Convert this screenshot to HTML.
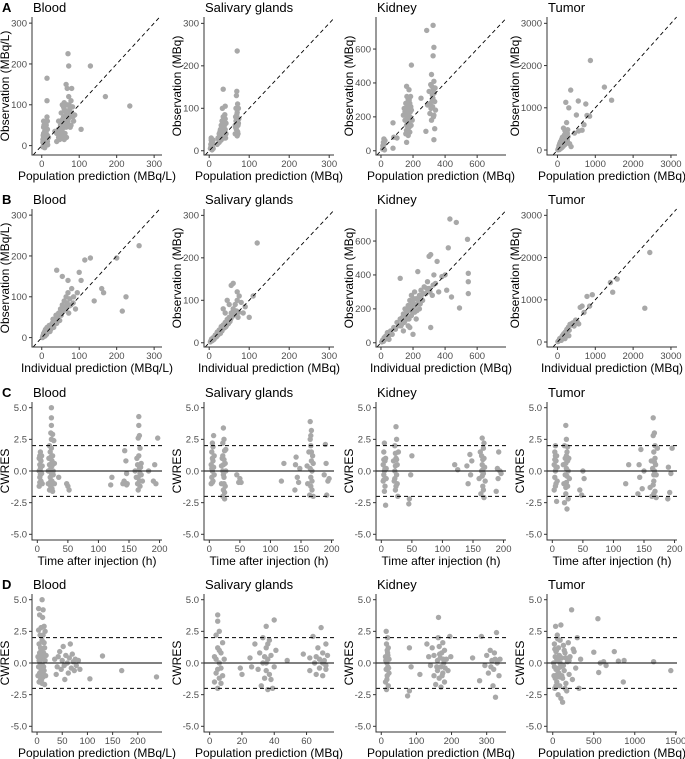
<!DOCTYPE html>
<html><head><meta charset="utf-8">
<style>
html,body{margin:0;padding:0;background:#fff;}
svg{display:block;font-family:"Liberation Sans",sans-serif;}
</style></head>
<body>
<svg id="fig" width="685" height="759" viewBox="0 0 685 759"></svg>
<script>
// ---- data ----
const A_blood=[[5,0],[5,10],[5,20],[5,30],[5,45],[5,60],[8,-5],[8,5],[8,15],[8,25],[8,35],[10,0],[10,12],[10,22],[10,40],[12,5],[12,18],[12,30],[12,50],[14,70],[14,110],[14,165],[15,10],[15,25],[15,40],[15,60],[18,20],[3,-3],[3,8],[3,15],[40,30],[40,10],[45,40],[45,20],[50,50],[50,30],[50,60],[52,80],[55,100],[55,40],[55,25],[58,70],[58,50],[60,90],[60,105],[62,30],[62,60],[65,75],[65,45],[65,150],[68,140],[68,100],[70,60],[70,80],[70,225],[72,195],[72,120],[75,90],[75,70],[78,110],[78,50],[80,140],[80,80],[82,95],[85,60],[88,75],[105,40],[130,195],[170,120],[235,97],[35,35],[45,60],[60,15],[66,20],[6,50],[7,3],[9,28],[11,8],[13,38],[16,2],[4,25],[52,35],[56,65],[63,85],[67,55],[73,100],[76,45],[48,15],[58,95],[71,65],[83,70],[53,20]];
const A_saliv=[[3,5],[4,15],[5,25],[5,30],[6,10],[6,20],[8,12],[8,18],[10,5],[10,25],[20,15],[22,30],[25,40],[25,20],[28,50],[28,35],[30,60],[30,25],[32,45],[32,70],[33,100],[35,145],[35,80],[35,55],[36,40],[38,60],[38,30],[40,75],[40,50],[40,105],[42,65],[42,40],[65,40],[65,60],[66,80],[67,100],[68,130],[68,50],[69,140],[70,70],[70,90],[70,235],[71,110],[72,60],[72,40],[73,100],[74,75],[70,35],[4,8],[6,28],[7,2],[9,15],[24,25],[27,45],[31,35],[34,65],[37,50],[39,85],[41,30],[66,55],[69,85],[71,45],[73,65],[67,70]];
const A_kidney=[[10,10],[12,30],[15,50],[15,20],[18,70],[20,40],[22,5],[25,60],[75,15],[75,165],[80,80],[100,75],[140,210],[145,250],[150,180],[150,230],[155,100],[155,280],[160,150],[160,50],[160,380],[162,320],[165,200],[165,260],[168,130],[170,90],[170,300],[172,220],[175,170],[175,360],[178,250],[180,110],[180,280],[182,200],[185,320],[188,150],[190,505],[190,240],[195,180],[250,310],[280,115],[285,710],[290,270],[300,350],[305,220],[310,390],[315,180],[315,450],[320,300],[320,330],[322,260],[325,740],[325,560],[328,360],[330,610],[330,410],[330,65],[330,210],[335,130],[335,290],[338,370],[340,240],[158,210],[163,240],[167,170],[173,270],[177,140],[183,230],[186,260],[159,120],[171,190],[176,300],[312,250],[318,380],[324,310],[332,340],[327,200],[308,280]];
const A_tumor=[[20,20],[30,50],[40,100],[50,10],[60,150],[70,80],[80,200],[90,40],[100,120],[110,250],[120,60],[130,300],[140,180],[150,90],[160,520],[170,220],[180,350],[190,130],[200,450],[210,280],[220,1130],[230,180],[240,650],[250,380],[260,230],[270,480],[280,320],[300,1000],[320,150],[350,1420],[360,80],[450,400],[500,830],[550,1160],[560,450],[650,470],[700,600],[750,1090],[780,820],[850,800],[870,2120],[1240,1490],[1430,1180],[10,5],[60,40],[120,200],[200,130],[80,100],[100,60],[140,260],[160,150],[180,220],[220,300],[240,200],[260,400],[190,330],[50,80]];
const B_blood=[[2,0],[4,5],[5,10],[6,3],[8,15],[10,8],[10,20],[12,12],[14,25],[15,18],[18,22],[20,30],[22,15],[25,28],[28,35],[30,45],[32,25],[35,40],[38,55],[40,35],[42,50],[45,60],[48,42],[50,70],[52,55],[55,80],[58,65],[60,90],[62,75],[65,100],[68,85],[70,110],[72,60],[75,95],[78,80],[80,120],[85,100],[90,70],[95,110],[40,165],[100,160],[105,140],[115,190],[130,195],[140,90],[160,120],[165,110],[200,195],[215,65],[225,100],[260,225],[55,150],[70,140],[3,4],[7,9],[9,4],[11,16],[13,8],[16,14],[24,20],[34,32],[44,45],[54,62],[64,70],[74,78],[84,85]];
const B_saliv=[[3,2],[5,6],[8,5],[10,12],[12,8],[15,18],[18,14],[20,25],[22,18],[25,30],[28,22],[30,38],[32,28],[35,42],[38,35],[40,48],[42,38],[45,55],[48,45],[50,60],[52,50],[55,70],[58,62],[60,80],[62,68],[65,90],[68,75],[70,100],[72,60],[75,110],[80,95],[85,70],[90,85],[35,80],[45,100],[55,135],[60,140],[110,110],[120,235],[100,60],[70,120],[4,4],[6,9],[14,12],[24,22],[34,36],[44,42],[54,56],[64,66],[74,72],[50,90],[40,70]];
const B_kidney=[[5,5],[10,15],[15,8],[20,30],[25,20],[30,40],[35,25],[40,60],[45,35],[50,20],[60,70],[70,50],[80,90],[90,80],[100,120],[110,100],[120,140],[130,110],[140,170],[150,130],[150,200],[160,180],[160,150],[170,220],[170,100],[180,190],[180,250],[190,160],[190,280],[200,210],[200,240],[210,180],[210,300],[220,260],[220,140],[230,230],[240,280],[240,200],[250,310],[260,250],[270,330],[280,290],[290,360],[300,320],[300,510],[310,520],[310,90],[320,280],[330,400],[340,350],[350,480],[360,300],[380,390],[400,400],[410,310],[420,560],[430,730],[440,270],[470,710],[490,205],[540,610],[545,410],[545,360],[545,290],[140,70],[200,50],[120,380],[230,420],[180,90],[155,160],[165,200],[175,140],[185,210],[195,230],[205,260],[215,220],[145,120],[135,150],[125,100],[225,190],[235,250],[245,230],[265,290],[285,320],[305,300],[325,340],[250,270],[195,190]];
const B_tumor=[[10,10],[30,25],[50,60],[70,50],[90,100],[110,90],[130,150],[150,120],[170,200],[190,170],[210,240],[230,200],[250,300],[270,260],[290,350],[310,280],[330,420],[360,400],[400,450],[440,380],[480,520],[520,480],[560,430],[600,820],[650,850],[700,700],[780,1080],[850,850],[920,1120],[1400,1410],[1460,1180],[1580,1490],[2310,800],[2440,2120],[200,80],[100,40],[300,150],[60,80],[120,110],[180,150],[240,260],[160,180],[80,70]];
const C_blood=[[3,-1.2],[3,0],[3,1],[4,0.5],[4,-0.5],[5,1.5],[5,0.2],[6,-0.8],[6,0.8],[7,-0.2],[7,1.2],[8,0.4],[8,-1],[5,-0.3],[18,0],[18,-1],[19,1],[20,-1.5],[20,0.5],[20,2],[21,-0.5],[21,1.5],[22,3],[22,-1.2],[22,0.2],[23,5],[23,4.2],[23,3.6],[23,2.5],[24,-0.8],[24,0.8],[25,2.9],[25,-1.6],[25,1.2],[26,0],[26,-0.3],[27,2.4],[28,-1],[28,0.6],[35,-0.5],[48,-1],[50,-1.2],[52,-1.5],[120,-1.1],[122,-0.5],[140,-1],[142,-0.8],[143,1.6],[145,0.8],[146,-0.2],[147,-1],[160,0],[162,-0.5],[163,1],[164,0.5],[165,2.6],[165,-1.5],[166,4.3],[166,3.6],[167,2.8],[167,-0.8],[168,1.8],[168,-1.2],[169,0.3],[170,-0.3],[170,0.6],[172,-0.8],[182,0],[190,-0.8],[192,0.5],[194,-1],[197,2.6],[4,-0.9],[5,0.9],[6,0.4],[4,1.2],[6,-0.1],[21,-1.1],[22,-0.8],[23,1.8],[24,0.4],[23,-0.2],[22,1.1],[24,-1.4],[165,-0.5],[167,0.2],[166,1.2],[168,-0.2],[164,-1],[143,-0.9],[146,-1.1]];
const C_saliv=[[3,-1],[3,0.5],[4,1.5],[4,-0.5],[5,2.2],[5,0],[6,-0.8],[6,0.8],[7,2.8],[7,0.3],[8,-0.3],[8,1.2],[20,0.4],[20,-1],[21,1],[22,-2],[22,2.2],[22,0],[23,3.4],[23,-1.5],[24,2.5],[24,-0.5],[25,1.6],[25,-2.2],[26,0.6],[26,-1.2],[27,1.7],[27,0],[45,-0.3],[48,-0.9],[50,-0.6],[52,-0.9],[118,-0.8],[122,0.6],[140,-1.5],[141,0.5],[142,1.1],[144,-0.5],[146,-0.9],[148,0.2],[160,0.4],[161,-1],[163,1.5],[164,-1.9],[165,3.9],[165,2.5],[166,2],[166,-0.5],[167,3.2],[167,0.8],[168,-1.5],[168,0],[169,1.2],[170,-2],[170,0.6],[188,-0.3],[190,2.1],[191,0.6],[192,-1.9],[194,-0.8],[196,-0.6],[4,0.2],[5,-0.9],[6,1.9],[5,1],[23,0.5],[24,-1],[22,1.2],[23,-0.3],[24,0.9],[25,-1.7],[166,-1.2],[167,1.5],[165,0.2],[168,-0.8],[166,2.8]];
const C_kidney=[[3,-0.8],[3,0.5],[4,1.5],[4,-0.3],[5,2.2],[5,0],[6,-1.2],[6,0.8],[7,1],[7,-2.7],[8,0.2],[8,-0.6],[20,0.8],[21,-0.8],[22,2],[22,0],[23,-1.5],[24,3.5],[24,1],[25,-0.3],[25,2.5],[26,-1],[26,0.5],[27,-2],[28,1.5],[45,-2.6],[46,-2.2],[48,-0.3],[50,1.2],[120,0.5],[125,0.1],[140,0.4],[142,-1],[145,1.3],[146,-0.3],[148,0.8],[160,-0.6],[162,1.5],[163,-1.8],[164,0],[165,2.6],[165,0.5],[166,-1.2],[167,1.8],[167,-0.2],[168,1],[168,-2.1],[169,0.3],[170,-0.8],[188,-1.6],[190,0.2],[191,-0.6],[192,1.5],[194,0],[196,-0.2],[4,0.9],[5,-1.6],[6,0.2],[4,-0.7],[23,0.4],[22,-0.6],[24,-1.2],[23,1.4],[25,0.9],[166,0.9],[167,-1.5],[165,-0.4],[168,2.2],[166,0.1],[164,1.2]];
const C_tumor=[[3,-1.5],[3,0.5],[4,1.5],[4,-0.5],[5,2],[5,0],[6,-1],[6,0.8],[7,-2.4],[7,1.2],[8,0.3],[8,-0.8],[18,0.5],[19,-1],[20,2],[20,-2.5],[21,1],[21,-0.3],[22,3.6],[22,-1.8],[23,2.5],[23,0.2],[24,-3],[24,1.5],[25,-1.2],[25,0.8],[26,-2.2],[26,0],[27,1],[28,-0.6],[45,-1.5],[48,-1.9],[50,0],[52,-0.6],[120,-1],[125,0.5],[140,-1.8],[142,0.5],[143,-0.5],[145,1.7],[147,-1.4],[150,0],[160,-1.3],[162,0.8],[163,-2],[164,0.2],[165,4.2],[165,2.8],[166,1.5],[166,-0.8],[167,3],[167,0],[168,-1.6],[168,1],[169,0.5],[170,-2.1],[170,-0.3],[172,1.8],[190,0.3],[192,-1.7],[194,-0.2],[196,1.8],[189,-2.2],[4,0.9],[5,-1.2],[6,0.3],[5,1.2],[22,0.6],[23,-0.9],[24,-0.4],[23,1.2],[22,-1.3],[25,1.9],[166,-0.3],[167,0.7],[165,-1.1],[168,2],[166,-1.8]];
const D_blood=[[2,-1],[2,0.5],[3,2.6],[3,4.3],[3,-0.3],[4,1.5],[4,-1.5],[5,3.8],[5,0.8],[5,-0.8],[6,2.2],[6,0],[7,-1.3],[7,1.2],[8,2.8],[8,-0.5],[9,0.3],[10,-1.6],[10,1.8],[10,5],[11,3.6],[11,-0.2],[12,4.2],[12,2.2],[12,-1.1],[13,0.8],[14,2.9],[14,-0.6],[15,1.2],[15,-1.7],[16,0.2],[16,2.5],[17,-1],[18,0.6],[35,0.3],[38,-0.9],[40,-0.3],[42,0.5],[45,0.9],[48,-0.5],[50,0.2],[52,1.3],[54,-0.2],[55,-1.3],[57,0.6],[60,0],[62,-0.8],[64,0.4],[66,1.5],[68,-0.4],[70,0.7],[72,0.1],[74,-0.6],[76,0.3],[78,-0.2],[82,0.2],[85,-0.5],[105,-1.25],[130,0.55],[168,-0.6],[237,-1.1],[4,0.2],[6,-1],[8,1],[9,-1.3],[11,0.5],[13,-0.3],[5,-0.3],[7,0.5],[12,-0.7],[14,1.6]];
const D_saliv=[[3,-1.5],[3,0.5],[4,2.2],[4,-0.8],[5,3.8],[5,3.3],[5,1.2],[5,-2],[6,0],[6,-1.2],[6,2.5],[7,0.8],[7,-0.4],[8,1.6],[8,-1],[9,0.3],[19,-0.4],[20,-0.9],[25,0.4],[26,-0.3],[28,1.5],[30,-0.5],[31,0.8],[32,-1.8],[33,2],[33,0],[34,-1.2],[35,2.9],[35,1.2],[35,-0.6],[36,0.3],[36,-2.1],[37,1.8],[37,-0.9],[38,0.6],[39,-2],[40,3.4],[40,-0.3],[41,1],[48,0.2],[58,0.7],[62,0.4],[62,-0.6],[64,2.1],[65,0],[66,-0.9],[67,1.2],[68,0.3],[68,-0.4],[69,2.8],[70,0.8],[70,-1],[71,0.2],[72,1.5],[72,-0.5],[73,0.6],[4,0.3],[5,-0.5],[6,1],[7,-1.6],[34,0.5],[36,1.5],[38,-1.3],[35,0],[66,0.5],[70,0],[72,-0.2]];
const D_kidney=[[12,-1.5],[12,0.5],[14,2.5],[14,-0.5],[15,1.5],[15,-2.1],[16,0],[17,-1],[18,2],[18,0.8],[19,-0.3],[20,1.2],[20,-1.8],[22,0.3],[22,-0.8],[75,-2.6],[80,-2.2],[80,1.2],[85,-0.3],[110,-0.9],[130,1.5],[135,0.5],[140,-0.2],[145,1.2],[150,-1],[150,0.6],[155,-1.7],[160,0.2],[160,-0.6],[162,2],[163,3.6],[165,1.3],[165,-1.2],[168,0.4],[170,-0.3],[170,-1.9],[172,0.8],[175,1.6],[175,-0.8],[178,0],[180,1],[180,-1.5],[185,0.3],[190,-0.6],[195,2.1],[198,0.5],[260,0.4],[280,-1.4],[285,2.1],[295,-0.2],[300,0.6],[305,-0.8],[310,1],[315,0.2],[318,-1.8],[320,-0.5],[322,0.8],[325,-2.7],[328,2.4],[330,0],[335,-1],[338,0.3],[13,0.2],[16,-1.3],[17,1],[19,0.6],[21,-0.4],[158,-0.3],[166,0.7],[173,-1],[177,0.3],[182,-0.4],[312,-0.3],[324,0.3]];
const D_tumor=[[10,0],[15,-1],[20,1.5],[25,-2],[30,0.5],[35,2.9],[40,-0.5],[45,1],[50,-1.5],[55,2.2],[60,0.2],[65,-2.5],[70,1.2],[75,-0.8],[80,0.6],[85,-1.8],[90,1.8],[95,-0.3],[100,3],[100,-2.8],[110,0.4],[120,-1.2],[120,-3.1],[130,1.4],[140,-0.6],[150,0.8],[160,-1.6],[170,-2.2],[180,0.1],[190,1.6],[200,-0.9],[210,0.5],[230,4.2],[240,-1.3],[260,0.9],[280,-0.4],[300,2],[320,-2],[340,0.3],[500,0.85],[550,3.5],[560,-0.75],[580,0],[620,0.1],[650,-0.2],[750,0.9],[800,0.15],[860,-1.5],[870,0.2],[1230,0.1],[1440,-0.6],[30,-1.2],[60,1.9],[150,-2],[250,1.1],[20,-0.3],[40,0.9],[50,0.3],[70,-0.4],[90,0],[110,-1],[130,-0.2],[160,0.4],[40,-1.8],[80,-1.1],[140,1],[200,0.2],[25,1.1],[55,-0.9]];

const ticks300=[0,100,200,300], ticks600=[0,200,400,600], ticks3000=[0,1000,2000,3000];
const cwresTicks=[-5,-2.5,0,2.5,5], cwresLabels=["-5.0","-2.5","0.0","2.5","5.0"];
const timeTicks=[0,50,100,150,200];
const dBloodTicks=[0,50,100,150,200], dSalivTicks=[0,20,40,60], dKidneyTicks=[0,100,200,300], dTumorTicks=[0,500,1000,1500];
const organs=["Blood","Salivary glands","Kidney","Tumor"];

// ---- layout ----
const NS="http://www.w3.org/2000/svg";
const svg=document.getElementById('fig');
const colX=[32,204,376,547], rowY=[17,209,402,594], PW=130, PH=138;
function mk(tag,attrs,parent){const e=document.createElementNS(NS,tag);for(const k in attrs)e.setAttribute(k,attrs[k]);(parent||svg).appendChild(e);return e;}

const panels=[
 {r:0,c:0,d:A_blood,xd:[-26,321],yd:[-23,315],xt:ticks300,yt:ticks300,xl:"Population prediction (MBq/L)",yl:"Observation (MBq/L)",t:"id"},
 {r:0,c:1,d:A_saliv,xd:[-13,312],yd:[-10,315],xt:ticks300,yt:ticks300,xl:"Population prediction (MBq)",yl:"Observation (MBq)",t:"id"},
 {r:0,c:2,d:A_kidney,xd:[-31,780],yd:[-25,789],xt:ticks600,yt:ticks600,xl:"Population prediction (MBq)",yl:"Observation (MBq)",t:"id"},
 {r:0,c:3,d:A_tumor,xd:[-277,3160],yd:[-118,3150],xt:ticks3000,yt:ticks3000,xl:"Population prediction (MBq)",yl:"Observation (MBq)",t:"id"},
 {r:1,c:0,d:B_blood,xd:[-26,321],yd:[-23,315],xt:ticks300,yt:ticks300,xl:"Individual prediction (MBq/L)",yl:"Observation (MBq/L)",t:"id"},
 {r:1,c:1,d:B_saliv,xd:[-13,312],yd:[-10,315],xt:ticks300,yt:ticks300,xl:"Individual prediction (MBq)",yl:"Observation (MBq)",t:"id"},
 {r:1,c:2,d:B_kidney,xd:[-31,780],yd:[-25,789],xt:ticks600,yt:ticks600,xl:"Individual prediction (MBq)",yl:"Observation (MBq)",t:"id"},
 {r:1,c:3,d:B_tumor,xd:[-277,3160],yd:[-118,3150],xt:ticks3000,yt:ticks3000,xl:"Individual prediction (MBq)",yl:"Observation (MBq)",t:"id"},
 {r:2,c:0,d:C_blood,xd:[-8.7,204],yd:[-5.45,5.45],xt:timeTicks,yt:cwresTicks,ytl:cwresLabels,xl:"Time after injection (h)",yl:"CWRES",t:"res"},
 {r:2,c:1,d:C_saliv,xd:[-8.7,204],yd:[-5.45,5.45],xt:timeTicks,yt:cwresTicks,ytl:cwresLabels,xl:"Time after injection (h)",yl:"CWRES",t:"res"},
 {r:2,c:2,d:C_kidney,xd:[-8.7,204],yd:[-5.45,5.45],xt:timeTicks,yt:cwresTicks,ytl:cwresLabels,xl:"Time after injection (h)",yl:"CWRES",t:"res"},
 {r:2,c:3,d:C_tumor,xd:[-8.7,204],yd:[-5.45,5.45],xt:timeTicks,yt:cwresTicks,ytl:cwresLabels,xl:"Time after injection (h)",yl:"CWRES",t:"res"},
 {r:3,c:0,d:D_blood,xd:[-10,248],yd:[-5.45,5.45],xt:dBloodTicks,yt:cwresTicks,ytl:cwresLabels,xl:"Population prediction (MBq/L)",yl:"CWRES",t:"res"},
 {r:3,c:1,d:D_saliv,xd:[-3.5,77],yd:[-5.45,5.45],xt:dSalivTicks,yt:cwresTicks,ytl:cwresLabels,xl:"Population prediction (MBq)",yl:"CWRES",t:"res"},
 {r:3,c:2,d:D_kidney,xd:[-15,355],yd:[-5.45,5.45],xt:dKidneyTicks,yt:cwresTicks,ytl:cwresLabels,xl:"Population prediction (MBq)",yl:"CWRES",t:"res"},
 {r:3,c:3,d:D_tumor,xd:[-70,1515],yd:[-5.45,5.45],xt:dTumorTicks,yt:cwresTicks,ytl:cwresLabels,xl:"Population prediction (MBq)",yl:"CWRES",t:"res"}
];
const letters=["A","B","C","D"];
letters.forEach((L,i)=>{
  const t=mk('text',{x:2,y:rowY[i]-5,'font-size':13,'font-weight':'bold',fill:'#000'});
  t.textContent=L;
  
  
});

panels.forEach(p=>{
  const x0=colX[p.c], y0=rowY[p.r];
  const sx=v=>x0+(v-p.xd[0])/(p.xd[1]-p.xd[0])*PW;
  const sy=v=>y0+PH-(v-p.yd[0])/(p.yd[1]-p.yd[0])*PH;
  const g=mk('g',{});
  
  
  const title=mk('text',{x:x0+1,y:y0-5,'font-size':13,fill:'#000'},g);
  title.textContent=organs[p.c];
  
  
  const pts=mk('g',{fill:'#a8a8a8'},g);
  
  
  p.d.forEach(d=>{
    const c=mk('circle',{cx:sx(d[0]).toFixed(1),cy:sy(d[1]).toFixed(1),r:2.7},pts);
    
    
  });
  if(p.t==="id"){
    const lo=Math.max(p.xd[0],p.yd[0]), hi=Math.min(p.xd[1],p.yd[1]);
    const l=mk('line',{x1:sx(lo),y1:sy(lo),x2:sx(hi),y2:sy(hi),stroke:'#000','stroke-width':0.9,'stroke-dasharray':'4,3'},g);
    
    
  } else {
    const l0=mk('line',{x1:x0,y1:sy(0),x2:x0+PW,y2:sy(0),stroke:'#000','stroke-width':1},g);
    
    
    [2,-2].forEach(v=>{
      const l=mk('line',{x1:x0,y1:sy(v),x2:x0+PW,y2:sy(v),stroke:'#000','stroke-width':1,'stroke-dasharray':'4,3'},g);
      
      
    });
  }
  const ax=mk('path',{d:`M${x0},${y0}V${y0+PH}H${x0+PW}`,fill:'none',stroke:'#333','stroke-width':1},g);
  
  
  p.xt.forEach(v=>{
    const X=sx(v);
    mk('line',{x1:X,y1:y0+PH,x2:X,y2:y0+PH+3,stroke:'#333'},g);
    const t=mk('text',{x:X,y:y0+PH+12,'font-size':9.5,fill:'#4d4d4d','text-anchor':'middle'},g);
    t.textContent=v;
    
    
  });
  p.yt.forEach((v,i)=>{
    const Y=sy(v);
    mk('line',{x1:x0-3,y1:Y,x2:x0,y2:Y,stroke:'#333'},g);
    const t=mk('text',{x:x0-5,y:Y+3.3,'font-size':9.5,fill:'#4d4d4d','text-anchor':'end'},g);
    t.textContent=p.ytl?p.ytl[i]:v;
    
    
  });
  const xt=mk('text',{x:x0+PW/2,y:y0+PH+25,'font-size':12,fill:'#000','text-anchor':'middle'},g);
  xt.textContent=p.xl;
  
  
  const off=(p.c===3&&p.t==="id")?28:23;
  const yx=x0-off, yy=y0+PH/2;
  const yt=mk('text',{x:yx,y:yy,'font-size':12,fill:'#000','text-anchor':'middle',transform:`rotate(-90 ${yx} ${yy})`},g);
  yt.textContent=p.yl;
  
  
});
</script>
</body></html>
